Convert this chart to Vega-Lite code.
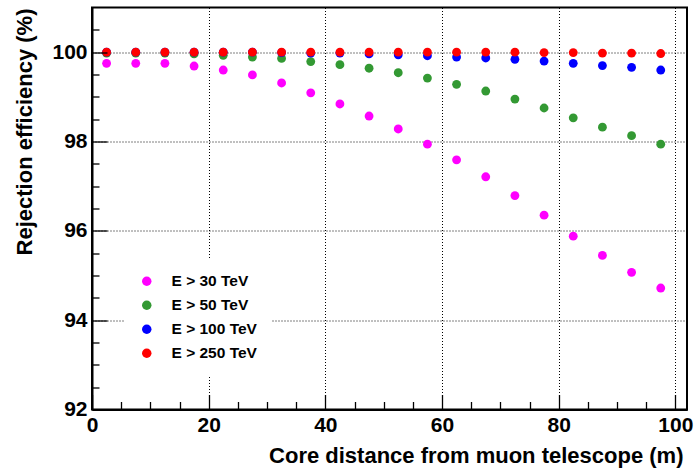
{
  "$schema": "https://vega.github.io/schema/vega-lite/v6.json",
  "autosize": "none",
  "width": 595,
  "height": 402,
  "padding": {"left": 92, "top": 7.5, "right": 7, "bottom": 60.5},
  "background": "white",
  "config": {
    "view": {"stroke": "black", "strokeWidth": 2},
    "font": "Liberation Sans"
  },
  "data": {
    "values": [
      {"d": 2.5, "eff": 99.75, "s": "E > 30 TeV"},
      {"d": 7.5, "eff": 99.75, "s": "E > 30 TeV"},
      {"d": 12.5, "eff": 99.75, "s": "E > 30 TeV"},
      {"d": 17.5, "eff": 99.69, "s": "E > 30 TeV"},
      {"d": 22.5, "eff": 99.6, "s": "E > 30 TeV"},
      {"d": 27.5, "eff": 99.49, "s": "E > 30 TeV"},
      {"d": 32.5, "eff": 99.31, "s": "E > 30 TeV"},
      {"d": 37.5, "eff": 99.09, "s": "E > 30 TeV"},
      {"d": 42.5, "eff": 98.84, "s": "E > 30 TeV"},
      {"d": 47.5, "eff": 98.57, "s": "E > 30 TeV"},
      {"d": 52.5, "eff": 98.28, "s": "E > 30 TeV"},
      {"d": 57.5, "eff": 97.94, "s": "E > 30 TeV"},
      {"d": 62.5, "eff": 97.59, "s": "E > 30 TeV"},
      {"d": 67.5, "eff": 97.21, "s": "E > 30 TeV"},
      {"d": 72.5, "eff": 96.79, "s": "E > 30 TeV"},
      {"d": 77.5, "eff": 96.35, "s": "E > 30 TeV"},
      {"d": 82.5, "eff": 95.88, "s": "E > 30 TeV"},
      {"d": 87.5, "eff": 95.45, "s": "E > 30 TeV"},
      {"d": 92.5, "eff": 95.07, "s": "E > 30 TeV"},
      {"d": 97.5, "eff": 94.72, "s": "E > 30 TeV"},
      {"d": 2.5, "eff": 99.98, "s": "E > 50 TeV"},
      {"d": 7.5, "eff": 99.98, "s": "E > 50 TeV"},
      {"d": 12.5, "eff": 99.98, "s": "E > 50 TeV"},
      {"d": 17.5, "eff": 99.96, "s": "E > 50 TeV"},
      {"d": 22.5, "eff": 99.93, "s": "E > 50 TeV"},
      {"d": 27.5, "eff": 99.89, "s": "E > 50 TeV"},
      {"d": 32.5, "eff": 99.86, "s": "E > 50 TeV"},
      {"d": 37.5, "eff": 99.79, "s": "E > 50 TeV"},
      {"d": 42.5, "eff": 99.72, "s": "E > 50 TeV"},
      {"d": 47.5, "eff": 99.64, "s": "E > 50 TeV"},
      {"d": 52.5, "eff": 99.54, "s": "E > 50 TeV"},
      {"d": 57.5, "eff": 99.42, "s": "E > 50 TeV"},
      {"d": 62.5, "eff": 99.28, "s": "E > 50 TeV"},
      {"d": 67.5, "eff": 99.13, "s": "E > 50 TeV"},
      {"d": 72.5, "eff": 98.95, "s": "E > 50 TeV"},
      {"d": 77.5, "eff": 98.75, "s": "E > 50 TeV"},
      {"d": 82.5, "eff": 98.53, "s": "E > 50 TeV"},
      {"d": 87.5, "eff": 98.32, "s": "E > 50 TeV"},
      {"d": 92.5, "eff": 98.13, "s": "E > 50 TeV"},
      {"d": 97.5, "eff": 97.94, "s": "E > 50 TeV"},
      {"d": 2.5, "eff": 100.0, "s": "E > 100 TeV"},
      {"d": 7.5, "eff": 100.0, "s": "E > 100 TeV"},
      {"d": 12.5, "eff": 100.0, "s": "E > 100 TeV"},
      {"d": 17.5, "eff": 100.0, "s": "E > 100 TeV"},
      {"d": 22.5, "eff": 100.0, "s": "E > 100 TeV"},
      {"d": 27.5, "eff": 100.0, "s": "E > 100 TeV"},
      {"d": 32.5, "eff": 99.99, "s": "E > 100 TeV"},
      {"d": 37.5, "eff": 99.98, "s": "E > 100 TeV"},
      {"d": 42.5, "eff": 99.98, "s": "E > 100 TeV"},
      {"d": 47.5, "eff": 99.96, "s": "E > 100 TeV"},
      {"d": 52.5, "eff": 99.94, "s": "E > 100 TeV"},
      {"d": 57.5, "eff": 99.92, "s": "E > 100 TeV"},
      {"d": 62.5, "eff": 99.89, "s": "E > 100 TeV"},
      {"d": 67.5, "eff": 99.87, "s": "E > 100 TeV"},
      {"d": 72.5, "eff": 99.84, "s": "E > 100 TeV"},
      {"d": 77.5, "eff": 99.8, "s": "E > 100 TeV"},
      {"d": 82.5, "eff": 99.75, "s": "E > 100 TeV"},
      {"d": 87.5, "eff": 99.7, "s": "E > 100 TeV"},
      {"d": 92.5, "eff": 99.66, "s": "E > 100 TeV"},
      {"d": 97.5, "eff": 99.6, "s": "E > 100 TeV"},
      {"d": 2.5, "eff": 100.0, "s": "E > 250 TeV"},
      {"d": 7.5, "eff": 100.0, "s": "E > 250 TeV"},
      {"d": 12.5, "eff": 100.0, "s": "E > 250 TeV"},
      {"d": 17.5, "eff": 100.0, "s": "E > 250 TeV"},
      {"d": 22.5, "eff": 100.0, "s": "E > 250 TeV"},
      {"d": 27.5, "eff": 100.0, "s": "E > 250 TeV"},
      {"d": 32.5, "eff": 100.0, "s": "E > 250 TeV"},
      {"d": 37.5, "eff": 100.0, "s": "E > 250 TeV"},
      {"d": 42.5, "eff": 100.0, "s": "E > 250 TeV"},
      {"d": 47.5, "eff": 100.0, "s": "E > 250 TeV"},
      {"d": 52.5, "eff": 100.0, "s": "E > 250 TeV"},
      {"d": 57.5, "eff": 100.0, "s": "E > 250 TeV"},
      {"d": 62.5, "eff": 100.0, "s": "E > 250 TeV"},
      {"d": 67.5, "eff": 100.0, "s": "E > 250 TeV"},
      {"d": 72.5, "eff": 100.0, "s": "E > 250 TeV"},
      {"d": 77.5, "eff": 99.99, "s": "E > 250 TeV"},
      {"d": 82.5, "eff": 99.99, "s": "E > 250 TeV"},
      {"d": 87.5, "eff": 99.98, "s": "E > 250 TeV"},
      {"d": 92.5, "eff": 99.98, "s": "E > 250 TeV"},
      {"d": 97.5, "eff": 99.97, "s": "E > 250 TeV"}
    ]
  },
  "layer": [
    {
      "mark": {"type": "point", "opacity": 0},
      "encoding": {
        "x": {
          "field": "d", "type": "quantitative",
          "axis": {
            "orient": "bottom", "offset": -15, "zindex": 1,
            "values": [0, 20, 40, 60, 80, 100],
            "labels": false, "title": null, "grid": false, "domain": false,
            "ticks": true, "tickSize": 15, "tickColor": "#000000", "tickWidth": 1.3, "tickOpacity": 1
          }
        },
        "y": {
          "field": "eff", "type": "quantitative",
          "axis": {
            "orient": "left", "offset": -15, "zindex": 1,
            "values": [92, 94, 96, 98, 100],
            "labels": false, "title": null, "grid": false, "domain": false,
            "ticks": true, "tickSize": 15, "tickColor": "#000000", "tickWidth": 1.3, "tickOpacity": 1
          }
        }
      }
    },
    {
      "mark": {"type": "point", "opacity": 0},
      "encoding": {
        "x": {
          "field": "d", "type": "quantitative",
          "axis": {
            "orient": "bottom", "offset": -8, "zindex": 1,
            "values": [5, 10, 15, 25, 30, 35, 45, 50, 55, 65, 70, 75, 85, 90, 95],
            "labels": false, "title": null, "grid": false, "domain": false,
            "ticks": true, "tickSize": 8, "tickColor": "#000000", "tickWidth": 1.3, "tickOpacity": 1
          }
        },
        "y": {
          "field": "eff", "type": "quantitative",
          "axis": {
            "orient": "left", "offset": -7, "zindex": 1,
            "values": [92.5, 93, 93.5, 94.5, 95, 95.5, 96.5, 97, 97.5, 98.5, 99, 99.5, 100.5],
            "labels": false, "title": null, "grid": false, "domain": false,
            "ticks": true, "tickSize": 7, "tickColor": "#000000", "tickWidth": 1.3, "tickOpacity": 1
          }
        }
      }
    },
    {
      "mark": {"type": "point", "filled": true, "opacity": 1, "size": 78},
      "encoding": {
        "x": {
          "field": "d", "type": "quantitative",
          "scale": {"domain": [0, 102], "nice": false, "zero": false},
          "axis": {
            "orient": "bottom",
            "values": [0, 20, 40, 60, 80, 100],
            "title": "Core distance from muon telescope (m)",
            "titleFont": "Liberation Sans", "titleFontSize": 22, "titleFontWeight": "bold", "titleColor": "black",
            "titleAnchor": "end", "titleAlign": "right", "titleBaseline": "alphabetic",
            "titleX": 591, "titleY": 53,
            "labelFont": "Liberation Sans", "labelFontSize": 21, "labelFontWeight": "bold", "labelColor": "black",
            "labelPadding": 5, "labelFlush": false,
            "ticks": false,
            "domainColor": "black", "domainWidth": 2,
            "grid": true, "gridColor": "#000", "gridDash": [1, 2], "gridWidth": 1
          }
        },
        "y": {
          "field": "eff", "type": "quantitative",
          "scale": {"domain": [92, 101], "nice": false, "zero": false},
          "axis": {
            "orient": "left",
            "values": [92, 94, 96, 98, 100],
            "title": "Rejection efficiency (%)",
            "titleFont": "Liberation Sans", "titleFontSize": 22, "titleFontWeight": "bold", "titleColor": "black",
            "titleAngle": -90, "titleAlign": "right", "titleBaseline": "alphabetic",
            "titleX": -61, "titleY": 0.5,
            "labelFont": "Liberation Sans", "labelFontSize": 21, "labelFontWeight": "bold", "labelColor": "black",
            "labelPadding": 5, "labelFlush": false,
            "ticks": false,
            "domainColor": "black", "domainWidth": 2,
            "grid": true, "gridColor": "#000", "gridDash": [1, 2], "gridWidth": 1
          }
        },
        "color": {
          "field": "s", "type": "nominal",
          "scale": {
            "domain": ["E > 30 TeV", "E > 50 TeV", "E > 100 TeV", "E > 250 TeV"],
            "range": ["#ff00ff", "#339933", "#0000ff", "#ff0000"]
          },
          "legend": {
            "title": null,
            "orient": "none", "legendX": 33, "legendY": 252,
            "fillColor": "white", "padding": 14,
            "symbolType": "circle", "symbolSize": 90, "symbolOpacity": 1,
            "labelFont": "Liberation Sans", "labelFontSize": 15.5, "labelFontWeight": "bold", "labelColor": "black",
            "labelOffset": 17, "rowPadding": 7
          }
        }
      }
    }
  ],
  "resolve": {"axis": {"x": "independent", "y": "independent"}}
}
